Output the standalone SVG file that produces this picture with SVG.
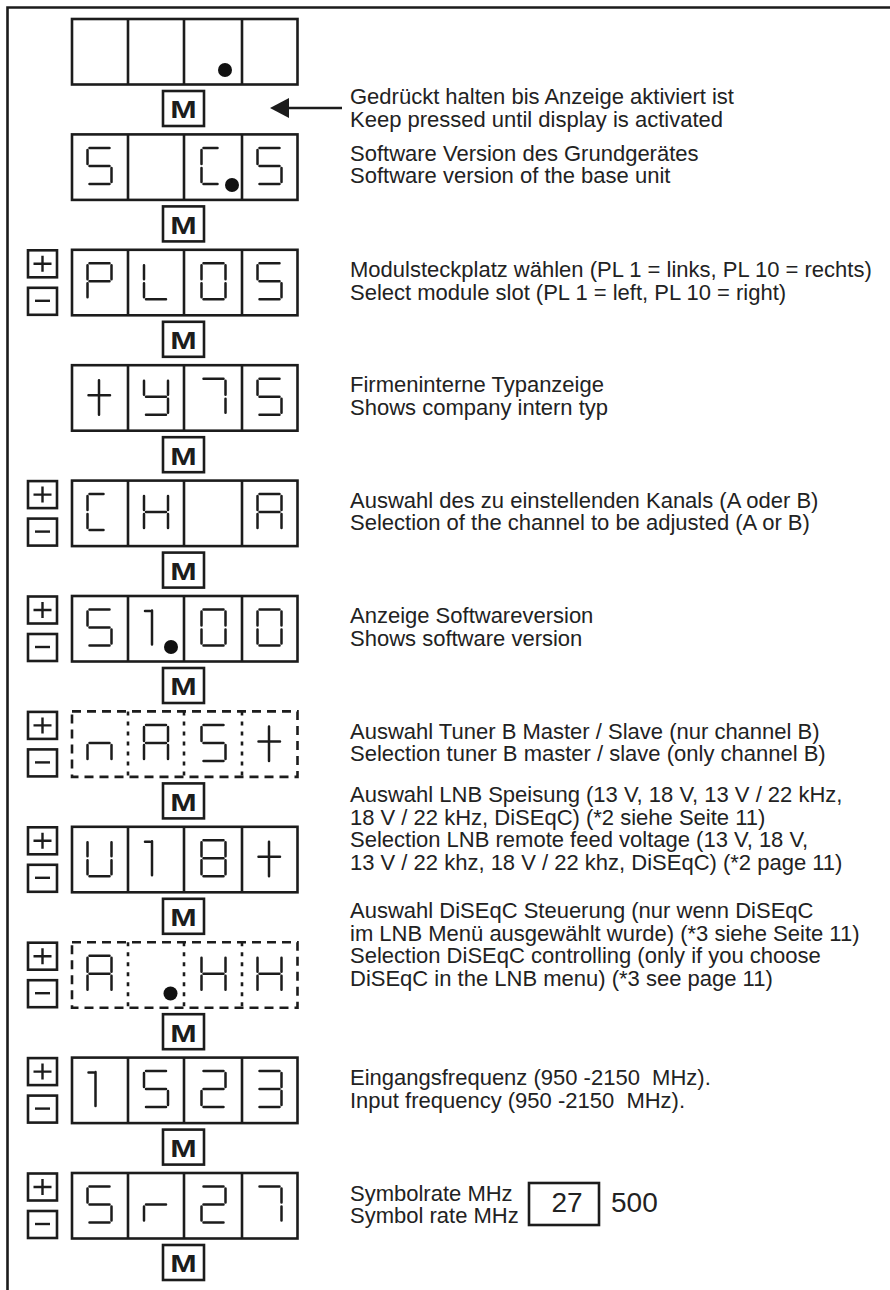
<svg xmlns="http://www.w3.org/2000/svg" xmlns:xlink="http://www.w3.org/1999/xlink" width="890" height="1290" viewBox="0 0 890 1290">
<style>
.frame{fill:none;stroke:#1c1c1c;stroke-width:2.6}
.disp{fill:none;stroke:#1c1c1c;stroke-width:2.6}
.dash{fill:none;stroke:#1c1c1c;stroke-width:2.6;stroke-dasharray:9 6}
.ddiv{fill:none;stroke:#1c1c1c;stroke-width:2.6;stroke-dasharray:4 6}
.seg{fill:none;stroke:#1c1c1c;stroke-width:2.5;stroke-linecap:round}
.key{fill:#fff;stroke:#1c1c1c;stroke-width:2.6}
.sign{fill:none;stroke:#1c1c1c;stroke-width:2.4}
.m{font-family:"Liberation Sans",Arial,sans-serif;font-weight:bold;font-size:23px;fill:#1c1c1c;text-anchor:middle}
.t{font-family:"Liberation Sans",Arial,sans-serif;font-size:22px;fill:#222;white-space:pre}
.big{font-family:"Liberation Sans",Arial,sans-serif;font-size:28px;fill:#222}
.dot{fill:#111}
.conn{fill:none;stroke:#1c1c1c;stroke-width:2.6}
</style>
<defs>
<path id="g5" class="seg" d="M2 0H22M0 2V16M2 18H22M24 20V34M2 36H22"/>
<path id="gC" class="seg" d="M2 0H16M0 2V16M0 20V34M2 36H16"/>
<path id="gP" class="seg" d="M2 0H22M0 2V16M24 2V16M2 18H22M0 20V34"/>
<path id="gL" class="seg" d="M0 2V16M0 20V34M2 36H22"/>
<path id="g0" class="seg" d="M2 0H22M0 2V16M24 2V16M0 20V34M24 20V34M2 36H22"/>
<path id="gt" class="seg" d="M11.5 1.5V36M1 16.5H22.5"/>
<path id="gy" class="seg" d="M0 2V16M24 2V16M2 18H22M24 20V34M2 36H22"/>
<path id="g7" class="seg" d="M2 0H22M24 2V16M24 20V34"/>
<path id="gH" class="seg" d="M0 2V16M24 2V16M2 18H22M0 20V34M24 20V34"/>
<path id="gA" class="seg" d="M2 0H22M0 2V16M24 2V16M2 18H22M0 20V34M24 20V34"/>
<path id="g1" class="seg" d="M1 1.5H6M8 1V35"/>
<path id="gn" class="seg" d="M2 18H22M0 20V34M24 20V34"/>
<path id="gU" class="seg" d="M0 2V16M24 2V16M0 20V34M24 20V34M2 36H22"/>
<path id="g8" class="seg" d="M2 0H22M0 2V16M24 2V16M2 18H22M0 20V34M24 20V34M2 36H22"/>
<path id="g2" class="seg" d="M2 0H22M24 2V16M2 18H22M0 20V34M2 36H22"/>
<path id="g3" class="seg" d="M2 0H22M24 2V16M2 18H22M24 20V34M2 36H22"/>
<path id="gr" class="seg" d="M2 18H22M0 20V34"/>
</defs>
<rect width="890" height="1290" fill="#fff"/>
<path class="frame" d="M7.5 1290V7.5H890"/>

<g id="connectors">
<path class="conn" d="M342 108H285" />
<path d="M270 108L289 98V118Z" fill="#1c1c1c"/>
</g>

<g id="row0">
<rect class="disp" x="72" y="19" width="225.5" height="65.5"/>
<path class="disp" d="M128 19V84.5M184 19V84.5M242 19V84.5"/>
<circle class="dot" cx="225" cy="70" r="7"/>
<text class="t" x="350" y="104">Gedrückt halten bis Anzeige aktiviert ist</text>
<text class="t" x="350" y="126.7">Keep pressed until display is activated</text>
</g>
<g id="m1"><rect class="key" x="163" y="91" width="41" height="35"/><text class="m" transform="translate(183.5 118.3) scale(1.38 1)">M</text></g>

<g id="row1">
<rect class="disp" x="72" y="134.4" width="225.5" height="65.5"/>
<path class="disp" d="M128 134.4V199.9M184 134.4V199.9M242 134.4V199.9"/>
<use href="#g5" x="87.5" y="147.9"/>
<use href="#gC" x="201.5" y="147.9"/>
<use href="#g5" x="257.5" y="147.9"/>
<circle class="dot" cx="232" cy="185" r="7"/>
<text class="t" x="350" y="160.7">Software Version des Grundgerätes</text>
<text class="t" x="350" y="183.3">Software version of the base unit</text>
</g>
<g id="m2"><rect class="key" x="163" y="206.4" width="41" height="35"/><text class="m" transform="translate(183.5 233.7) scale(1.38 1)">M</text></g>

<g id="row2">
<rect class="key" x="28" y="250.3" width="29" height="27"/><path class="sign" d="M33.5 263.8H51.5M42.5 255.8V271.8"/>
<rect class="key" x="28" y="287.8" width="29" height="27"/><path class="sign" d="M35 300.8H50"/>
<rect class="disp" x="72" y="249.8" width="225.5" height="65.5"/>
<path class="disp" d="M128 249.8V315.3M184 249.8V315.3M242 249.8V315.3"/>
<use href="#gP" x="87.5" y="263.3"/>
<use href="#gL" x="144" y="263.3"/>
<use href="#g0" x="201.5" y="263.3"/>
<use href="#g5" x="257.5" y="263.3"/>
<text class="t" x="350" y="277">Modulsteckplatz wählen (PL 1 = links, PL 10 = rechts)</text>
<text class="t" x="350" y="299.5">Select module slot (PL 1 = left, PL 10 = right)</text>
</g>
<g id="m3"><rect class="key" x="163" y="321.8" width="41" height="35"/><text class="m" transform="translate(183.5 349.1) scale(1.38 1)">M</text></g>

<g id="row3">
<rect class="disp" x="72" y="365.2" width="225.5" height="65.5"/>
<path class="disp" d="M128 365.2V430.7M184 365.2V430.7M242 365.2V430.7"/>
<use href="#gt" x="87.5" y="378.7"/>
<use href="#gy" x="144" y="378.7"/>
<use href="#g7" x="201.5" y="378.7"/>
<use href="#g5" x="257.5" y="378.7"/>
<text class="t" x="350" y="392.4">Firmeninterne Typanzeige</text>
<text class="t" x="350" y="414.9">Shows company intern typ</text>
</g>
<g id="m4"><rect class="key" x="163" y="437.2" width="41" height="35"/><text class="m" transform="translate(183.5 464.5) scale(1.38 1)">M</text></g>

<g id="row4">
<rect class="key" x="28" y="481.1" width="29" height="27"/><path class="sign" d="M33.5 494.6H51.5M42.5 486.6V502.6"/>
<rect class="key" x="28" y="518.6" width="29" height="27"/><path class="sign" d="M35 531.6H50"/>
<rect class="disp" x="72" y="480.6" width="225.5" height="65.5"/>
<path class="disp" d="M128 480.6V546.1M184 480.6V546.1M242 480.6V546.1"/>
<use href="#gC" x="87.5" y="494.1"/>
<use href="#gH" x="144" y="494.1"/>
<use href="#gA" x="257.5" y="494.1"/>
<text class="t" x="350" y="507.8">Auswahl des zu einstellenden Kanals (A oder B)</text>
<text class="t" x="350" y="530.3">Selection of the channel to be adjusted (A or B)</text>
</g>
<g id="m5"><rect class="key" x="163" y="552.6" width="41" height="35"/><text class="m" transform="translate(183.5 579.9) scale(1.38 1)">M</text></g>

<g id="row5">
<rect class="key" x="28" y="596.5" width="29" height="27"/><path class="sign" d="M33.5 610H51.5M42.5 602V618"/>
<rect class="key" x="28" y="634" width="29" height="27"/><path class="sign" d="M35 647H50"/>
<rect class="disp" x="72" y="596" width="225.5" height="65.5"/>
<path class="disp" d="M128 596V661.5M184 596V661.5M242 596V661.5"/>
<use href="#g5" x="87.5" y="609.5"/>
<use href="#g1" x="144" y="609.5"/>
<use href="#g0" x="201.5" y="609.5"/>
<use href="#g0" x="257.5" y="609.5"/>
<circle class="dot" cx="171" cy="647" r="7"/>
<text class="t" x="350" y="623.2">Anzeige Softwareversion</text>
<text class="t" x="350" y="645.7">Shows software version</text>
</g>
<g id="m6"><rect class="key" x="163" y="668" width="41" height="35"/><text class="m" transform="translate(183.5 695.3) scale(1.38 1)">M</text></g>

<g id="row6">
<rect class="key" x="28" y="711.9" width="29" height="27"/><path class="sign" d="M33.5 725.4H51.5M42.5 717.4V733.4"/>
<rect class="key" x="28" y="749.4" width="29" height="27"/><path class="sign" d="M35 762.4H50"/>
<rect class="dash" x="72" y="711.4" width="225.5" height="65.5"/>
<path class="ddiv" d="M128 711.4V776.9M184 711.4V776.9M242 711.4V776.9"/>
<use href="#gn" x="87.5" y="724.9"/>
<use href="#gA" x="144" y="724.9"/>
<use href="#g5" x="201.5" y="724.9"/>
<use href="#gt" x="257.5" y="724.9"/>
<text class="t" x="350" y="738.6">Auswahl Tuner B Master / Slave (nur channel B)</text>
<text class="t" x="350" y="761.1">Selection tuner B master / slave (only channel B)</text>
</g>
<g id="m7"><rect class="key" x="163" y="783.4" width="41" height="35"/><text class="m" transform="translate(183.5 810.7) scale(1.38 1)">M</text></g>

<g id="row7">
<rect class="key" x="28" y="827.3" width="29" height="27"/><path class="sign" d="M33.5 840.8H51.5M42.5 832.8V848.8"/>
<rect class="key" x="28" y="864.8" width="29" height="27"/><path class="sign" d="M35 877.8H50"/>
<rect class="disp" x="72" y="826.8" width="225.5" height="65.5"/>
<path class="disp" d="M128 826.8V892.3M184 826.8V892.3M242 826.8V892.3"/>
<use href="#gU" x="87.5" y="840.3"/>
<use href="#g1" x="144" y="840.3"/>
<use href="#g8" x="201.5" y="840.3"/>
<use href="#gt" x="257.5" y="840.3"/>
<text class="t" x="350" y="802">Auswahl LNB Speisung (13 V, 18 V, 13 V / 22 kHz,</text>
<text class="t" x="350" y="824.5">18 V / 22 kHz, DiSEqC) (*2 siehe Seite 11)</text>
<text class="t" x="350" y="847">Selection LNB remote feed voltage (13 V, 18 V,</text>
<text class="t" x="350" y="869.5">13 V / 22 khz, 18 V / 22 khz, DiSEqC) (*2 page 11)</text>
</g>
<g id="m8"><rect class="key" x="163" y="898.8" width="41" height="35"/><text class="m" transform="translate(183.5 926.1) scale(1.38 1)">M</text></g>

<g id="row8">
<rect class="key" x="28" y="942.7" width="29" height="27"/><path class="sign" d="M33.5 956.2H51.5M42.5 948.2V964.2"/>
<rect class="key" x="28" y="980.2" width="29" height="27"/><path class="sign" d="M35 993.2H50"/>
<rect class="dash" x="72" y="942.2" width="225.5" height="65.5"/>
<path class="ddiv" d="M128 942.2V1007.7M184 942.2V1007.7M242 942.2V1007.7"/>
<use href="#gA" x="87.5" y="955.7"/>
<use href="#gH" x="201.5" y="955.7"/>
<use href="#gH" x="257.5" y="955.7"/>
<circle class="dot" cx="170.5" cy="993.5" r="7"/>
<text class="t" x="350" y="918">Auswahl DiSEqC Steuerung (nur wenn DiSEqC</text>
<text class="t" x="350" y="940.5">im LNB Menü ausgewählt wurde) (*3 siehe Seite 11)</text>
<text class="t" x="350" y="963">Selection DiSEqC controlling (only if you choose</text>
<text class="t" x="350" y="985.5">DiSEqC in the LNB menu) (*3 see page 11)</text>
</g>
<g id="m9"><rect class="key" x="163" y="1014.2" width="41" height="35"/><text class="m" transform="translate(183.5 1041.5) scale(1.38 1)">M</text></g>

<g id="row9">
<rect class="key" x="28" y="1058.1" width="29" height="27"/><path class="sign" d="M33.5 1071.6H51.5M42.5 1063.6V1079.6"/>
<rect class="key" x="28" y="1095.6" width="29" height="27"/><path class="sign" d="M35 1108.6H50"/>
<rect class="disp" x="72" y="1057.6" width="225.5" height="65.5"/>
<path class="disp" d="M128 1057.6V1123.1M184 1057.6V1123.1M242 1057.6V1123.1"/>
<use href="#g1" x="87.5" y="1071.1"/>
<use href="#g5" x="144" y="1071.1"/>
<use href="#g2" x="201.5" y="1071.1"/>
<use href="#g3" x="257.5" y="1071.1"/>
<text class="t" x="350" y="1085">Eingangsfrequenz (950 -2150  MHz).</text>
<text class="t" x="350" y="1108">Input frequency (950 -2150  MHz).</text>
</g>
<g id="m10"><rect class="key" x="163" y="1129.6" width="41" height="35"/><text class="m" transform="translate(183.5 1156.9) scale(1.38 1)">M</text></g>

<g id="row10">
<rect class="key" x="28" y="1173.5" width="29" height="27"/><path class="sign" d="M33.5 1187H51.5M42.5 1179V1195"/>
<rect class="key" x="28" y="1211" width="29" height="27"/><path class="sign" d="M35 1224H50"/>
<rect class="disp" x="72" y="1173" width="225.5" height="65.5"/>
<path class="disp" d="M128 1173V1238.5M184 1173V1238.5M242 1173V1238.5"/>
<use href="#g5" x="87.5" y="1186.5"/>
<use href="#gr" x="144" y="1186.5"/>
<use href="#g2" x="201.5" y="1186.5"/>
<use href="#g7" x="257.5" y="1186.5"/>
<text class="t" x="350" y="1200.5">Symbolrate MHz</text>
<text class="t" x="350" y="1223">Symbol rate MHz</text>
<rect class="disp" x="529" y="1183" width="70" height="42" stroke-width="2"/>
<text class="big" x="567" y="1212.3" text-anchor="middle">27</text>
<text class="big" x="611" y="1212.3">500</text>
</g>
<g id="m11"><rect class="key" x="163" y="1245" width="41" height="35"/><text class="m" transform="translate(183.5 1272.3) scale(1.38 1)">M</text></g>
</svg>
